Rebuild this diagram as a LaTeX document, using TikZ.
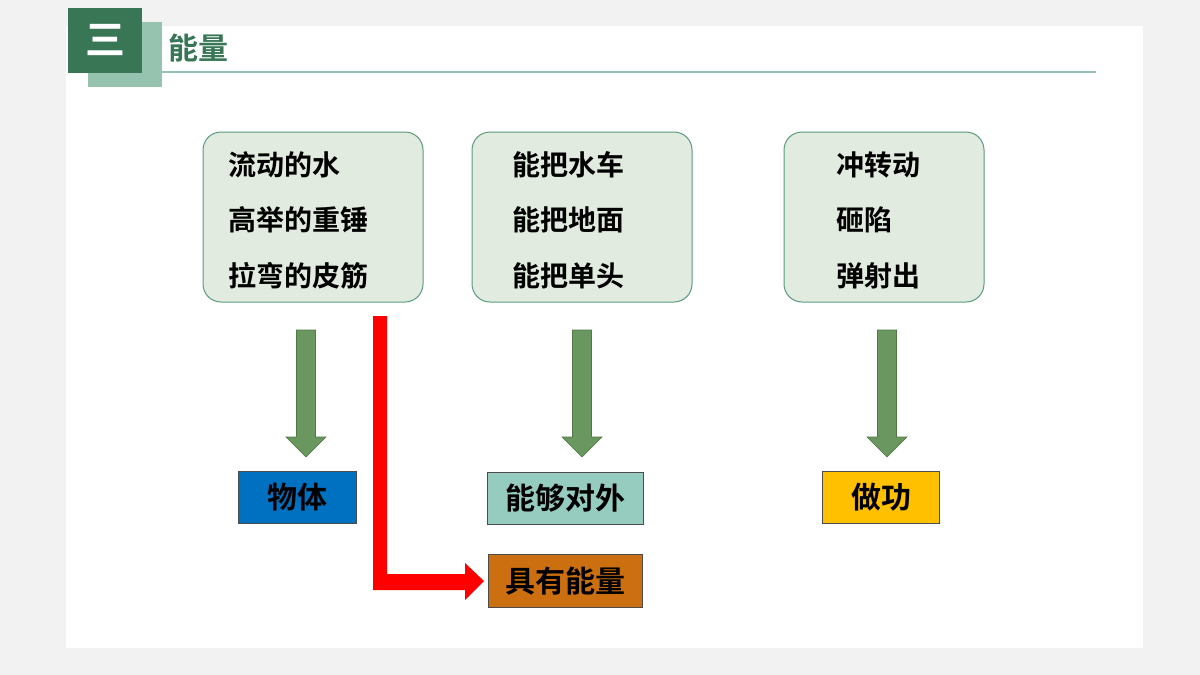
\documentclass[tikz,border=0pt]{standalone}
\usepackage{fontspec}
\newfontfamily\cjk{Noto Sans CJK SC Bold}
\definecolor{boxfill}{RGB}{226,235,224}
\definecolor{boxline}{RGB}{90,154,128}
\definecolor{hlight}{RGB}{150,195,175}
\definecolor{hdark}{RGB}{56,118,86}
\definecolor{gfill}{RGB}{106,150,96}
\definecolor{gline}{RGB}{80,120,70}
\definecolor{cblue}{RGB}{0,112,192}
\definecolor{cteal}{RGB}{150,203,191}
\definecolor{cgold}{RGB}{255,192,0}
\definecolor{corange}{RGB}{204,111,16}
\begin{document}
\begin{tikzpicture}[x=1pt,y=-1pt,
  topbox/.style={draw=boxline,line width=1pt,fill=boxfill,rounded corners=18pt,minimum width=220pt,minimum height=170pt},
  txt/.style={font=\cjk\fontsize{28}{34}\selectfont,anchor=west,inner sep=0pt},
  lab/.style={draw=black!70,line width=0.6pt,minimum height=52pt,font=\cjk\fontsize{30}{34}\selectfont,inner sep=0pt},
  garrow/.style={fill=gfill,draw=gline,line width=0.6pt}]
\useasboundingbox (0,0) rectangle (1200,675);
\fill[black!5] (0,0) rectangle (1200,675);
\fill[white] (66,26) rectangle (1143,648);
% header
\fill[hlight] (88,22) rectangle (162,87);
\fill[hdark] (68,8) rectangle (142,73);
\node[text=white,font=\cjk\fontsize{40}{40}\selectfont] (hnum) at (105,40) {三};
\node[text=hdark,font=\cjk\fontsize{30}{34}\selectfont,anchor=west,inner sep=0pt] (title) at (168,48) {能量};
\draw[hlight,line width=2.5pt] (162,72) -- (1096,72);
% top boxes
\node[topbox] (b1) at (313,217) {};
\node[topbox] (b2) at (582,217) {};
\node[topbox,minimum width=200pt] (b3) at (884,217) {};
\node[txt] (t11) at (228,165) {流动的水};
\node[txt] (t12) at (228,220) {高举的重锤};
\node[txt] (t13) at (228,276) {拉弯的皮筋};
\node[txt] (t21) at (512,165) {能把水车};
\node[txt] (t22) at (512,220) {能把地面};
\node[txt] (t23) at (512,276) {能把单头};
\node[txt] (t31) at (836,165) {冲转动};
\node[txt] (t32) at (836,220) {砸陷};
\node[txt] (t33) at (836,276) {弹射出};
% green arrows
\foreach \c/\n in {306/a1,582/a2,887/a3}{
  \coordinate (\n) at (\c,457);
  \draw[garrow] (\c-9.5,330) -- (\c+9.5,330) -- (\c+9.5,437) -- (\c+20,437) -- (\n) -- (\c-20,437) -- (\c-9.5,437) -- cycle;
}
% labels
\node[lab,fill=cblue,minimum width=118pt] (l1) at (297,497) {物体};
\node[lab,fill=cteal,minimum width=156pt] (l2) at (565,498) {能够对外};
\node[lab,fill=cgold,minimum width=117pt] (l3) at (881,497) {做功};
\node[lab,fill=corange,minimum width=154pt,minimum height=53pt] (l4) at (565,581) {具有能量};
% red arrow
\fill[red] (373,316) -- (387,316) -- (387,574) -- (465,574) -- (465,563) -- (484,581) -- (465,600) -- (465,590) -- (373,590) -- cycle;
\end{tikzpicture}
\end{document}
